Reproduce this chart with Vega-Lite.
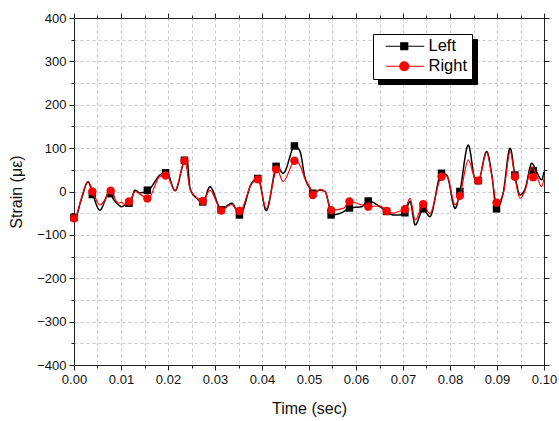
{
  "$schema": "https://vega.github.io/schema/vega-lite/v6.json",
  "autosize": "none",
  "width": 470,
  "height": 347,
  "padding": {"left": 74, "top": 18, "right": 15, "bottom": 56},
  "background": "white",
  "config": {
    "view": {"stroke": null},
    "font": "Liberation Sans",
    "axis": {"labelFont": "Liberation Sans", "titleFont": "Liberation Sans", "labelColor": "#111", "titleColor": "#111", "domainColor": "#222", "tickColor": "#222", "titleFontWeight": "normal", "labelFontSize": 13, "titleFontSize": 16, "gridColor": "#c8c8c8", "gridDash": [3, 3], "gridWidth": 1, "labelFlush": false}
  },
  "datasets": {
    "lines": [
      {"series": "Left", "t": 0, "v": -60}, {"series": "Left", "t": 0.0004, "v": -58}, {"series": "Left", "t": 0.0015, "v": -20}, {"series": "Left", "t": 0.003, "v": 22}, {"series": "Left", "t": 0.004, "v": -7}, {"series": "Left", "t": 0.0055, "v": -43}, {"series": "Left", "t": 0.0068, "v": -15}, {"series": "Left", "t": 0.0077, "v": 8}, {"series": "Left", "t": 0.0079, "v": -5}, {"series": "Left", "t": 0.0094, "v": -30}, {"series": "Left", "t": 0.0101, "v": -35}, {"series": "Left", "t": 0.0109, "v": -31}, {"series": "Left", "t": 0.0119, "v": -27}, {"series": "Left", "t": 0.013, "v": 3}, {"series": "Left", "t": 0.014, "v": -3}, {"series": "Left", "t": 0.0158, "v": 3}, {"series": "Left", "t": 0.0183, "v": 38}, {"series": "Left", "t": 0.0197, "v": 45}, {"series": "Left", "t": 0.0215, "v": 2}, {"series": "Left", "t": 0.0236, "v": 73}, {"series": "Left", "t": 0.024, "v": 76}, {"series": "Left", "t": 0.0247, "v": 7}, {"series": "Left", "t": 0.0261, "v": -16}, {"series": "Left", "t": 0.0275, "v": -24}, {"series": "Left", "t": 0.0289, "v": 11}, {"series": "Left", "t": 0.0314, "v": -42}, {"series": "Left", "t": 0.0328, "v": -31}, {"series": "Left", "t": 0.0336, "v": -27}, {"series": "Left", "t": 0.0346, "v": -43}, {"series": "Left", "t": 0.0353, "v": -54}, {"series": "Left", "t": 0.0378, "v": 19}, {"series": "Left", "t": 0.0392, "v": 30}, {"series": "Left", "t": 0.0409, "v": -44}, {"series": "Left", "t": 0.0432, "v": 58}, {"series": "Left", "t": 0.0445, "v": 42}, {"series": "Left", "t": 0.047, "v": 105}, {"series": "Left", "t": 0.0481, "v": 92}, {"series": "Left", "t": 0.0491, "v": 34}, {"series": "Left", "t": 0.0502, "v": 7}, {"series": "Left", "t": 0.0509, "v": -4}, {"series": "Left", "t": 0.0523, "v": 3}, {"series": "Left", "t": 0.0534, "v": 0}, {"series": "Left", "t": 0.0545, "v": -43}, {"series": "Left", "t": 0.0548, "v": -54}, {"series": "Left", "t": 0.0573, "v": -47}, {"series": "Left", "t": 0.0587, "v": -38}, {"series": "Left", "t": 0.0612, "v": -35}, {"series": "Left", "t": 0.0626, "v": -22}, {"series": "Left", "t": 0.0651, "v": -35}, {"series": "Left", "t": 0.0665, "v": -46}, {"series": "Left", "t": 0.0679, "v": -54}, {"series": "Left", "t": 0.0694, "v": -54}, {"series": "Left", "t": 0.0704, "v": -49}, {"series": "Left", "t": 0.0715, "v": -23}, {"series": "Left", "t": 0.0726, "v": -77}, {"series": "Left", "t": 0.0743, "v": -40}, {"series": "Left", "t": 0.0757, "v": -58}, {"series": "Left", "t": 0.0782, "v": 42}, {"series": "Left", "t": 0.0793, "v": 38}, {"series": "Left", "t": 0.0811, "v": -39}, {"series": "Left", "t": 0.0821, "v": 0}, {"series": "Left", "t": 0.0839, "v": 107}, {"series": "Left", "t": 0.0853, "v": 30}, {"series": "Left", "t": 0.086, "v": 25}, {"series": "Left", "t": 0.0878, "v": 92}, {"series": "Left", "t": 0.0889, "v": 38}, {"series": "Left", "t": 0.0899, "v": -40}, {"series": "Left", "t": 0.0913, "v": -4}, {"series": "Left", "t": 0.0928, "v": 100}, {"series": "Left", "t": 0.0938, "v": 38}, {"series": "Left", "t": 0.0949, "v": -8}, {"series": "Left", "t": 0.096, "v": 7}, {"series": "Left", "t": 0.0974, "v": 65}, {"series": "Left", "t": 0.0984, "v": 46}, {"series": "Left", "t": 0.0995, "v": 27}, {"series": "Left", "t": 0.1, "v": 46},
      {"series": "Right", "t": 0, "v": -62}, {"series": "Right", "t": 0.0004, "v": -58}, {"series": "Right", "t": 0.0015, "v": -18}, {"series": "Right", "t": 0.003, "v": 23}, {"series": "Right", "t": 0.004, "v": 0}, {"series": "Right", "t": 0.0055, "v": -31}, {"series": "Right", "t": 0.0068, "v": -15}, {"series": "Right", "t": 0.0077, "v": 5}, {"series": "Right", "t": 0.0079, "v": 2}, {"series": "Right", "t": 0.0094, "v": -27}, {"series": "Right", "t": 0.0101, "v": -25}, {"series": "Right", "t": 0.0109, "v": -31}, {"series": "Right", "t": 0.0119, "v": -23}, {"series": "Right", "t": 0.013, "v": 0}, {"series": "Right", "t": 0.014, "v": -6}, {"series": "Right", "t": 0.0158, "v": -16}, {"series": "Right", "t": 0.0183, "v": 35}, {"series": "Right", "t": 0.0197, "v": 37}, {"series": "Right", "t": 0.0215, "v": 2}, {"series": "Right", "t": 0.0236, "v": 71}, {"series": "Right", "t": 0.0247, "v": 5}, {"series": "Right", "t": 0.0261, "v": -14}, {"series": "Right", "t": 0.0275, "v": -22}, {"series": "Right", "t": 0.0289, "v": 3}, {"series": "Right", "t": 0.0314, "v": -44}, {"series": "Right", "t": 0.0328, "v": -33}, {"series": "Right", "t": 0.0336, "v": -30}, {"series": "Right", "t": 0.0346, "v": -43}, {"series": "Right", "t": 0.0353, "v": -45}, {"series": "Right", "t": 0.0378, "v": 18}, {"series": "Right", "t": 0.0392, "v": 28}, {"series": "Right", "t": 0.0409, "v": -40}, {"series": "Right", "t": 0.0432, "v": 51}, {"series": "Right", "t": 0.0445, "v": 23}, {"series": "Right", "t": 0.047, "v": 71}, {"series": "Right", "t": 0.0481, "v": 60}, {"series": "Right", "t": 0.0491, "v": 30}, {"series": "Right", "t": 0.0502, "v": 10}, {"series": "Right", "t": 0.0509, "v": -8}, {"series": "Right", "t": 0.0523, "v": 5}, {"series": "Right", "t": 0.0534, "v": 0}, {"series": "Right", "t": 0.0545, "v": -38}, {"series": "Right", "t": 0.0548, "v": -43}, {"series": "Right", "t": 0.0573, "v": -39}, {"series": "Right", "t": 0.0587, "v": -23}, {"series": "Right", "t": 0.0612, "v": -31}, {"series": "Right", "t": 0.0626, "v": -35}, {"series": "Right", "t": 0.0651, "v": -33}, {"series": "Right", "t": 0.0665, "v": -45}, {"series": "Right", "t": 0.0679, "v": -50}, {"series": "Right", "t": 0.0694, "v": -45}, {"series": "Right", "t": 0.0704, "v": -41}, {"series": "Right", "t": 0.0715, "v": -16}, {"series": "Right", "t": 0.0726, "v": -66}, {"series": "Right", "t": 0.0743, "v": -29}, {"series": "Right", "t": 0.0757, "v": -51}, {"series": "Right", "t": 0.0782, "v": 34}, {"series": "Right", "t": 0.0793, "v": 36}, {"series": "Right", "t": 0.0811, "v": -31}, {"series": "Right", "t": 0.0821, "v": -10}, {"series": "Right", "t": 0.0839, "v": 73}, {"series": "Right", "t": 0.0853, "v": 30}, {"series": "Right", "t": 0.086, "v": 25}, {"series": "Right", "t": 0.0878, "v": 90}, {"series": "Right", "t": 0.0889, "v": 36}, {"series": "Right", "t": 0.0899, "v": -26}, {"series": "Right", "t": 0.0913, "v": -6}, {"series": "Right", "t": 0.0928, "v": 92}, {"series": "Right", "t": 0.0938, "v": 34}, {"series": "Right", "t": 0.0949, "v": -16}, {"series": "Right", "t": 0.096, "v": 3}, {"series": "Right", "t": 0.0974, "v": 57}, {"series": "Right", "t": 0.0984, "v": 38}, {"series": "Right", "t": 0.0995, "v": 11}, {"series": "Right", "t": 0.1, "v": 30}
    ],
    "markers": [
      {"series": "Left", "t": 0, "v": -60}, {"series": "Left", "t": 0.0039, "v": -7}, {"series": "Left", "t": 0.0078, "v": -5}, {"series": "Left", "t": 0.0117, "v": -27}, {"series": "Left", "t": 0.0156, "v": 3}, {"series": "Left", "t": 0.0195, "v": 43}, {"series": "Left", "t": 0.0235, "v": 72}, {"series": "Left", "t": 0.0274, "v": -24}, {"series": "Left", "t": 0.0313, "v": -42}, {"series": "Left", "t": 0.0352, "v": -54}, {"series": "Left", "t": 0.0391, "v": 30}, {"series": "Left", "t": 0.043, "v": 58}, {"series": "Left", "t": 0.0469, "v": 105}, {"series": "Left", "t": 0.0508, "v": -4}, {"series": "Left", "t": 0.0547, "v": -54}, {"series": "Left", "t": 0.0586, "v": -38}, {"series": "Left", "t": 0.0626, "v": -22}, {"series": "Left", "t": 0.0665, "v": -46}, {"series": "Left", "t": 0.0704, "v": -49}, {"series": "Left", "t": 0.0743, "v": -40}, {"series": "Left", "t": 0.0782, "v": 42}, {"series": "Left", "t": 0.0821, "v": 0}, {"series": "Left", "t": 0.086, "v": 25}, {"series": "Left", "t": 0.0899, "v": -40}, {"series": "Left", "t": 0.0938, "v": 38}, {"series": "Left", "t": 0.0977, "v": 48},
      {"series": "Right", "t": 0, "v": -62}, {"series": "Right", "t": 0.0039, "v": 0}, {"series": "Right", "t": 0.0078, "v": 2}, {"series": "Right", "t": 0.0117, "v": -23}, {"series": "Right", "t": 0.0156, "v": -16}, {"series": "Right", "t": 0.0195, "v": 37}, {"series": "Right", "t": 0.0235, "v": 71}, {"series": "Right", "t": 0.0274, "v": -22}, {"series": "Right", "t": 0.0313, "v": -44}, {"series": "Right", "t": 0.0352, "v": -45}, {"series": "Right", "t": 0.0391, "v": 28}, {"series": "Right", "t": 0.043, "v": 51}, {"series": "Right", "t": 0.0469, "v": 71}, {"series": "Right", "t": 0.0508, "v": -8}, {"series": "Right", "t": 0.0547, "v": -43}, {"series": "Right", "t": 0.0586, "v": -23}, {"series": "Right", "t": 0.0626, "v": -35}, {"series": "Right", "t": 0.0665, "v": -45}, {"series": "Right", "t": 0.0704, "v": -41}, {"series": "Right", "t": 0.0743, "v": -29}, {"series": "Right", "t": 0.0782, "v": 34}, {"series": "Right", "t": 0.0821, "v": -10}, {"series": "Right", "t": 0.086, "v": 25}, {"series": "Right", "t": 0.0899, "v": -26}, {"series": "Right", "t": 0.0938, "v": 34}, {"series": "Right", "t": 0.0977, "v": 33}
    ]
  },
  "resolve": {"axis": {"x": "independent", "y": "independent"}},
  "layer": [
    {
      "data": {"name": "lines"},
      "transform": [{"filter": "datum.series === 'Left'"}],
      "mark": {"type": "line", "strokeWidth": 1.5, "interpolate": "monotone"},
      "encoding": {
        "x": {"field": "t", "type": "quantitative", "scale": {"domain": [0, 0.1], "nice": false, "zero": false},
              "axis": {"orient": "bottom", "values": [0, 0.01, 0.02, 0.03, 0.04, 0.05, 0.06, 0.07, 0.08, 0.09, 0.1], "format": ".2f", "tickSize": 5, "grid": false, "title": "Time (sec)", "titlePadding": 14, "labelPadding": 3, "labelFlush": false}},
        "y": {"field": "v", "type": "quantitative", "scale": {"domain": [-400, 400], "nice": false, "zero": false},
              "axis": {"orient": "left", "values": [-400, -300, -200, -100, 0, 100, 200, 300, 400], "tickSize": 5, "grid": false, "title": "Strain (με)", "titlePadding": 12, "labelPadding": 3, "labelFlush": false}},
        "color": {"field": "series", "type": "nominal", "scale": {"domain": ["Left", "Right"], "range": ["#000000", "#ff0000"]},
          "legend": {
            "orient": "none", "legendX": 299, "legendY": 16, "title": null, "zindex": 3,
            "padding": 4, "strokeColor": "#000", "fillColor": "#fff",
            "labelFont": "Liberation Sans", "labelFontSize": 16.5, "labelColor": "#000",
            "symbolSize": 100, "labelOffset": 35, "rowPadding": 3,
            "encode": {"symbols": {"update": {
              "shape": {"signal": "datum.value === 'Left' ? 'M0.1,0H7.8M3.1,-0.7H4.5V0.7H3.1Z' : 'M0.1,0H7.8M2.9,0A0.9,0.9,0,1,0,4.7,0A0.9,0.9,0,1,0,2.9,0Z'"},
              "fill": {"scale": "color", "field": "value"},
              "stroke": {"scale": "color", "field": "value"},
              "strokeWidth": {"value": 1.2},
              "size": {"value": 100},
              "opacity": {"value": 1}
            }}}
          }},
        "strokeDash": {"field": "series", "type": "nominal", "scale": {"domain": ["Right", "Left"], "range": [[1, 0], [1, 0]]},
          "legend": {
            "orient": "none", "legendX": 304, "legendY": 21, "title": null, "zindex": 1,
            "padding": 4, "strokeColor": "#000", "fillColor": "#000",
            "labelFont": "Liberation Sans", "labelFontSize": 16.5, "labelColor": "#000", "labelExpr": "''",
            "symbolSize": 100, "labelOffset": 74, "rowPadding": 3, "symbolStrokeColor": "#000"
          }}
      }
    },
    {
      "data": {"name": "markers"},
      "transform": [{"filter": "datum.series === 'Left'"}],
      "mark": {"type": "point", "shape": "square", "filled": true, "size": 56, "opacity": 1},
      "encoding": {
        "x": {"field": "t", "type": "quantitative",
              "axis": {"orient": "bottom", "values": [0, 0.005, 0.01, 0.015, 0.02, 0.025, 0.03, 0.035, 0.04, 0.045, 0.05, 0.055, 0.06, 0.065, 0.07, 0.075, 0.08, 0.085, 0.09, 0.095, 0.1], "labels": false, "tickSize": 3, "grid": true, "title": null, "domain": false}},
        "y": {"field": "v", "type": "quantitative",
              "axis": {"orient": "left", "values": [-400, -350, -300, -250, -200, -150, -100, -50, 0, 50, 100, 150, 200, 250, 300, 350, 400], "labels": false, "tickSize": 3, "grid": true, "title": null, "domain": false}},
        "color": {"field": "series", "type": "nominal"}
      }
    },
    {
      "data": {"name": "lines"},
      "transform": [{"filter": "datum.series === 'Right'"}],
      "mark": {"type": "line", "strokeWidth": 1.2, "interpolate": "monotone"},
      "encoding": {
        "x": {"field": "t", "type": "quantitative",
              "axis": {"orient": "top", "values": [0, 0.01, 0.02, 0.03, 0.04, 0.05, 0.06, 0.07, 0.08, 0.09, 0.1], "labels": false, "tickSize": 5, "grid": false, "title": null}},
        "y": {"field": "v", "type": "quantitative",
              "axis": {"orient": "right", "values": [-400, -300, -200, -100, 0, 100, 200, 300, 400], "labels": false, "tickSize": 5, "grid": false, "title": null}},
        "color": {"field": "series", "type": "nominal"}
      }
    },
    {
      "data": {"name": "markers"},
      "transform": [{"filter": "datum.series === 'Right'"}],
      "mark": {"type": "point", "shape": "circle", "filled": true, "size": 70, "opacity": 1},
      "encoding": {
        "x": {"field": "t", "type": "quantitative",
              "axis": {"orient": "top", "values": [0, 0.005, 0.01, 0.015, 0.02, 0.025, 0.03, 0.035, 0.04, 0.045, 0.05, 0.055, 0.06, 0.065, 0.07, 0.075, 0.08, 0.085, 0.09, 0.095, 0.1], "labels": false, "tickSize": 3, "grid": false, "title": null, "domain": false}},
        "y": {"field": "v", "type": "quantitative",
              "axis": {"orient": "right", "values": [-400, -350, -300, -250, -200, -150, -100, -50, 0, 50, 100, 150, 200, 250, 300, 350, 400], "labels": false, "tickSize": 3, "grid": false, "title": null, "domain": false}},
        "color": {"field": "series", "type": "nominal"}
      }
    }
  ]
}
